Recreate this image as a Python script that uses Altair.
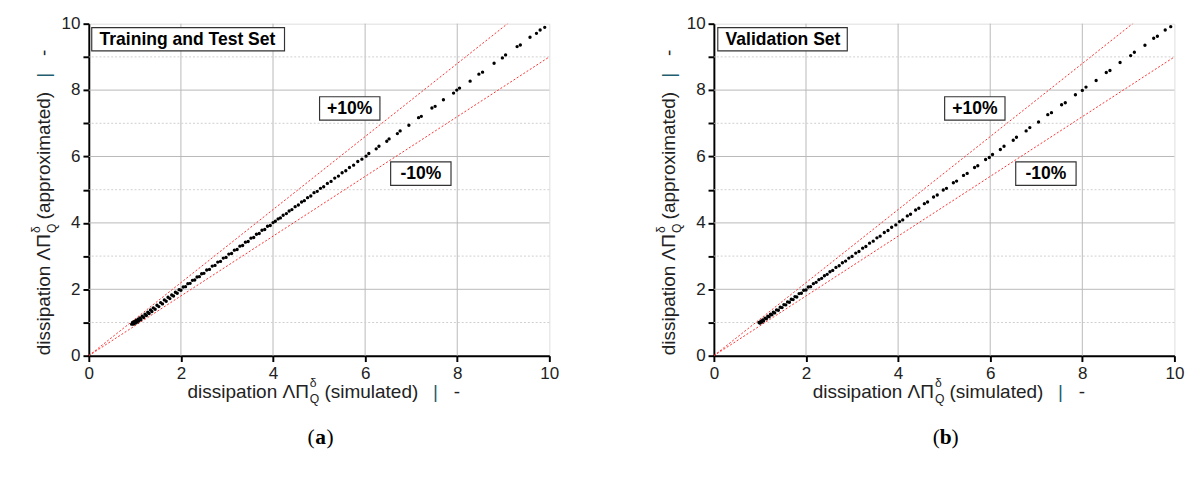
import altair as alt
import pandas as pd

# ---------------- data ----------------
train_pts = [
    (0.93, 0.95), (0.95, 1.00), (0.97, 0.95), (0.99, 1.03), (1.01, 0.98), (1.03, 1.06), (1.05, 1.01),
    (1.07, 1.10), (1.09, 1.05), (1.11, 1.14), (1.13, 1.09), (1.16, 1.19), (1.19, 1.15), (1.22, 1.25),
    (1.25, 1.21), (1.28, 1.31), (1.31, 1.27), (1.34, 1.38), (1.37, 1.33), (1.40, 1.44), (1.44, 1.40),
    (1.48, 1.52), (1.52, 1.48), (1.56, 1.60), (1.60, 1.56), (1.64, 1.68), (1.68, 1.64), (1.72, 1.76),
    (1.76, 1.72), (1.80, 1.83), (1.84, 1.80), (1.88, 1.91), (1.92, 1.88), (1.96, 1.99), (2.00, 1.97),
    (2.05, 2.07), (2.10, 2.08), (2.15, 2.17), (2.20, 2.18), (2.25, 2.27), (2.30, 2.28), (2.35, 2.37),
    (2.40, 2.38), (2.45, 2.47), (2.50, 2.48), (2.56, 2.58), (2.62, 2.60), (2.68, 2.70), (2.74, 2.72),
    (2.80, 2.82), (2.86, 2.84), (2.92, 2.94), (2.98, 2.96), (3.04, 3.06), (3.10, 3.08), (3.16, 3.18),
    (3.22, 3.20), (3.28, 3.30), (3.34, 3.32), (3.40, 3.42), (3.46, 3.44), (3.52, 3.54), (3.58, 3.56),
    (3.64, 3.66), (3.70, 3.68), (3.76, 3.78), (3.82, 3.80), (3.88, 3.90), (3.94, 3.92),
    (4.00, 4.01), (4.05, 4.05), (4.11, 4.12), (4.16, 4.15), (4.22, 4.23), (4.29, 4.28), (4.35, 4.36),
    (4.41, 4.40), (4.48, 4.49), (4.55, 4.54), (4.62, 4.63), (4.68, 4.67), (4.75, 4.76), (4.82, 4.81),
    (4.89, 4.91), (4.96, 4.95), (5.03, 5.04), (5.10, 5.09), (5.18, 5.19), (5.26, 5.25), (5.34, 5.35),
    (5.42, 5.41), (5.50, 5.51), (5.58, 5.57), (5.66, 5.67), (5.75, 5.74), (5.84, 5.85), (5.93, 5.92),
    (6.02, 6.01),
    (6.08, 6.09), (6.24, 6.23), (6.30, 6.31), (6.47, 6.46), (6.52, 6.53), (6.70, 6.69), (6.76, 6.77),
    (6.95, 6.94), (7.16, 7.17), (7.22, 7.21), (7.45, 7.46), (7.52, 7.51), (7.70, 7.71), (7.92, 7.91),
    (7.99, 8.00), (8.05, 8.06), (8.28, 8.27), (8.47, 8.48), (8.55, 8.54), (8.80, 8.81), (8.98, 8.97),
    (9.05, 9.06), (9.30, 9.31), (9.37, 9.36), (9.58, 9.59), (9.72, 9.71), (9.80, 9.81), (9.90, 9.89),
]

valid_pts = [
    (0.98, 1.00), (1.00, 0.98), (1.02, 1.04), (1.04, 1.01), (1.06, 1.08), (1.08, 1.05), (1.11, 1.13),
    (1.14, 1.11), (1.17, 1.19), (1.20, 1.17), (1.23, 1.25), (1.26, 1.23), (1.29, 1.31), (1.32, 1.29),
    (1.36, 1.38), (1.40, 1.37), (1.44, 1.46), (1.48, 1.45), (1.52, 1.54), (1.56, 1.53), (1.60, 1.62),
    (1.64, 1.61), (1.68, 1.70), (1.72, 1.69), (1.76, 1.78), (1.80, 1.77), (1.85, 1.87), (1.90, 1.88),
    (1.95, 1.97), (2.00, 1.98), (2.05, 2.07), (2.10, 2.08), (2.16, 2.17), (2.22, 2.21), (2.28, 2.29),
    (2.34, 2.33), (2.40, 2.41), (2.46, 2.45), (2.52, 2.53), (2.58, 2.57), (2.65, 2.66), (2.72, 2.71),
    (2.79, 2.80), (2.86, 2.85), (2.93, 2.94), (3.00, 2.99), (3.08, 3.09), (3.15, 3.14), (3.23, 3.24),
    (3.30, 3.29), (3.38, 3.39), (3.46, 3.45), (3.54, 3.55), (3.61, 3.60), (3.70, 3.71), (3.78, 3.77),
    (3.86, 3.87), (3.95, 3.94), (4.03, 4.04), (4.10, 4.09), (4.20, 4.21), (4.27, 4.26), (4.38, 4.39),
    (4.45, 4.44), (4.57, 4.58), (4.64, 4.63), (4.77, 4.78), (4.85, 4.84), (4.98, 4.99), (5.05, 5.04),
    (5.20, 5.21), (5.27, 5.26), (5.42, 5.43), (5.50, 5.49), (5.66, 5.67), (5.73, 5.72), (5.90, 5.91),
    (5.98, 5.97), (6.05, 6.06), (6.22, 6.21), (6.30, 6.31), (6.50, 6.49), (6.57, 6.58), (6.78, 6.77),
    (6.86, 6.87), (7.05, 7.04), (7.25, 7.26), (7.33, 7.32), (7.55, 7.56), (7.63, 7.62), (7.85, 7.86),
    (8.00, 7.99), (8.08, 8.09), (8.30, 8.29), (8.52, 8.53), (8.60, 8.59), (8.82, 8.83), (9.05, 9.04),
    (9.13, 9.14), (9.36, 9.35), (9.55, 9.56), (9.63, 9.62), (9.80, 9.81), (9.92, 9.91),
]

ref_x = [0, 10]
ref_plus = [0, 11]     # +10 %
ref_minus = [0, 9]     # -10 %
x_ticks = [0, 2, 4, 6, 8, 10]
y_ticks = [0, 1, 2, 3, 4, 5, 6, 7, 8, 9, 10]
grid_major = [2, 4, 6, 8]
grid_minor = [1, 3, 5, 7, 9]

W, H = 473, 341
FONT = "Liberation Sans"
TXT = "#222222"

xs = alt.Scale(domain=[0, 10], nice=False, zero=False)
ys = alt.Scale(domain=[0, 10], nice=False, zero=False)

x_axis = alt.Axis(values=x_ticks, grid=False, title=None, domainColor="black", domainWidth=2,
                  tickColor="black", tickWidth=2, tickSize=6, labelFont=FONT, labelFontSize=17.5,
                  labelColor=TXT, labelPadding=3, labelFlush=False, labelOverlap=False)
y_axis = alt.Axis(values=y_ticks, grid=False, title=None, domainColor="black", domainWidth=2,
                  tickColor="black", tickWidth=2, tickSize=6, labelFont=FONT, labelFontSize=17.5,
                  labelColor=TXT, labelPadding=3, labelFlush=False, labelOverlap=False,
                  labelExpr="datum.value % 2 == 0 ? datum.label : ''")


def txt(s, px, py, size=19.5, weight="normal", align="center", angle=0, color=TXT, font=FONT,
        baseline="middle"):
    kw = dict(fontSize=size, fontWeight=weight, align=align, baseline=baseline, color=color, font=font)
    if angle:
        kw["angle"] = angle
    return alt.Chart(pd.DataFrame({"t": [s]})).mark_text(**kw).encode(
        x=alt.value(px), y=alt.value(py), text="t:N")


def box(x1, x2, y1, y2):
    return alt.Chart(pd.DataFrame({"b": [0]})).mark_rect(
        fill="white", stroke="#333333", strokeWidth=1.2).encode(
        x=alt.value(x1), x2=alt.value(x2), y=alt.value(y1), y2=alt.value(y2))


def panel(pts, name, name_box, plus_c, minus_c, letter, letter_x):
    pdf = pd.DataFrame(pts, columns=["x", "y"])
    gx = alt.Chart(pd.DataFrame({"v": grid_major})).mark_rule(color="#b8b8b8", strokeWidth=1).encode(
        x=alt.X("v:Q", scale=xs, axis=x_axis))
    gy = alt.Chart(pd.DataFrame({"v": grid_major})).mark_rule(color="#b8b8b8", strokeWidth=1).encode(
        y=alt.Y("v:Q", scale=ys, axis=y_axis))
    gm = alt.Chart(pd.DataFrame({"v": grid_minor})).mark_rule(
        color="#cfcfcf", strokeWidth=1, strokeDash=[2, 2]).encode(y=alt.Y("v:Q", scale=ys, axis=y_axis))
    ref = pd.DataFrame({"x": ref_x, "p": ref_plus, "m": ref_minus})
    lp = alt.Chart(ref).mark_line(color="#ff2a2a", strokeWidth=1, strokeDash=[2, 2], clip=True).encode(
        x=alt.X("x:Q", scale=xs, axis=x_axis), y=alt.Y("p:Q", scale=ys, axis=y_axis))
    lm = alt.Chart(ref).mark_line(color="#ff2a2a", strokeWidth=1, strokeDash=[2, 2], clip=True).encode(
        x=alt.X("x:Q", scale=xs, axis=x_axis), y=alt.Y("m:Q", scale=ys, axis=y_axis))
    sc = alt.Chart(pdf).mark_circle(color="black", size=12, opacity=1).encode(
        x=alt.X("x:Q", scale=xs, axis=x_axis), y=alt.Y("y:Q", scale=ys, axis=y_axis))

    layers = [gx, gy, gm, lp, lm, sc]
    # name box
    bx1, bx2, by1, by2 = name_box
    layers += [box(bx1, bx2, by1, by2), txt(name, bx1 + 8, (by1 + by2) / 2 + 0.5, size=18,
                                              weight="bold", align="left", color="black")]
    for lab, (cx, cy) in (("+10%", plus_c), ("-10%", minus_c)):
        layers += [box(cx - 31, cx + 31, cy - 12, cy + 12),
                   txt(lab, cx, cy + 0.5, size=18, weight="bold", color="black")]

    # x-axis title
    ty = H + 37
    layers += [
        txt("dissipation ΛΠ", 226, ty, align="right"),
        txt("δ", 227, ty - 9, size=12.5, align="left"),
        txt("Q", 227, ty + 8, size=12.5, align="left"),
        txt("(simulated)", 242, ty, align="left"),
        txt("|", 356, ty, color="#1f5f6f"),
        txt("-", 378, ty),
    ]
    # y-axis title (rotated)
    layers += [
        txt("dissipation ΛΠ", -46, 216, align="right", angle=270),
        txt("δ", -54, 215, size=12.5, align="left", angle=270),
        txt("Q", -38, 215, size=12.5, align="left", angle=270),
        txt("(approximated)", -46, 201, align="left", angle=270),
        txt("|", -46, 53, angle=270, color="#1f5f6f"),
        txt("-", -46, 30, angle=270),
    ]
    # panel letter
    serif = "Liberation Serif"
    ly = H + 84
    layers += [
        txt("(", letter_x - 6, ly, size=22, align="right", font=serif, color="black"),
        txt(letter, letter_x, ly, size=22, weight="bold", font=serif, color="black"),
        txt(")", letter_x + 6, ly, size=22, align="left", font=serif, color="black"),
    ]
    return alt.layer(*layers).properties(width=W, height=H)


left = panel(train_pts, "Training and Test Set", (3, 201, 4, 28), (268, 87), (341, 154), "a", 238)
right = panel(valid_pts, "Validation Set", (4, 137, 4, 28), (268, 87), (341, 154), "b", 238)

chart = alt.hconcat(left, right, spacing=97).properties(
    padding={"left": 22, "top": 0, "right": 5, "bottom": 5}
).configure_view(stroke="black", strokeWidth=2).configure(background="white")

chart.save("out.html", embed_options={"renderer": "svg", "actions": False})
